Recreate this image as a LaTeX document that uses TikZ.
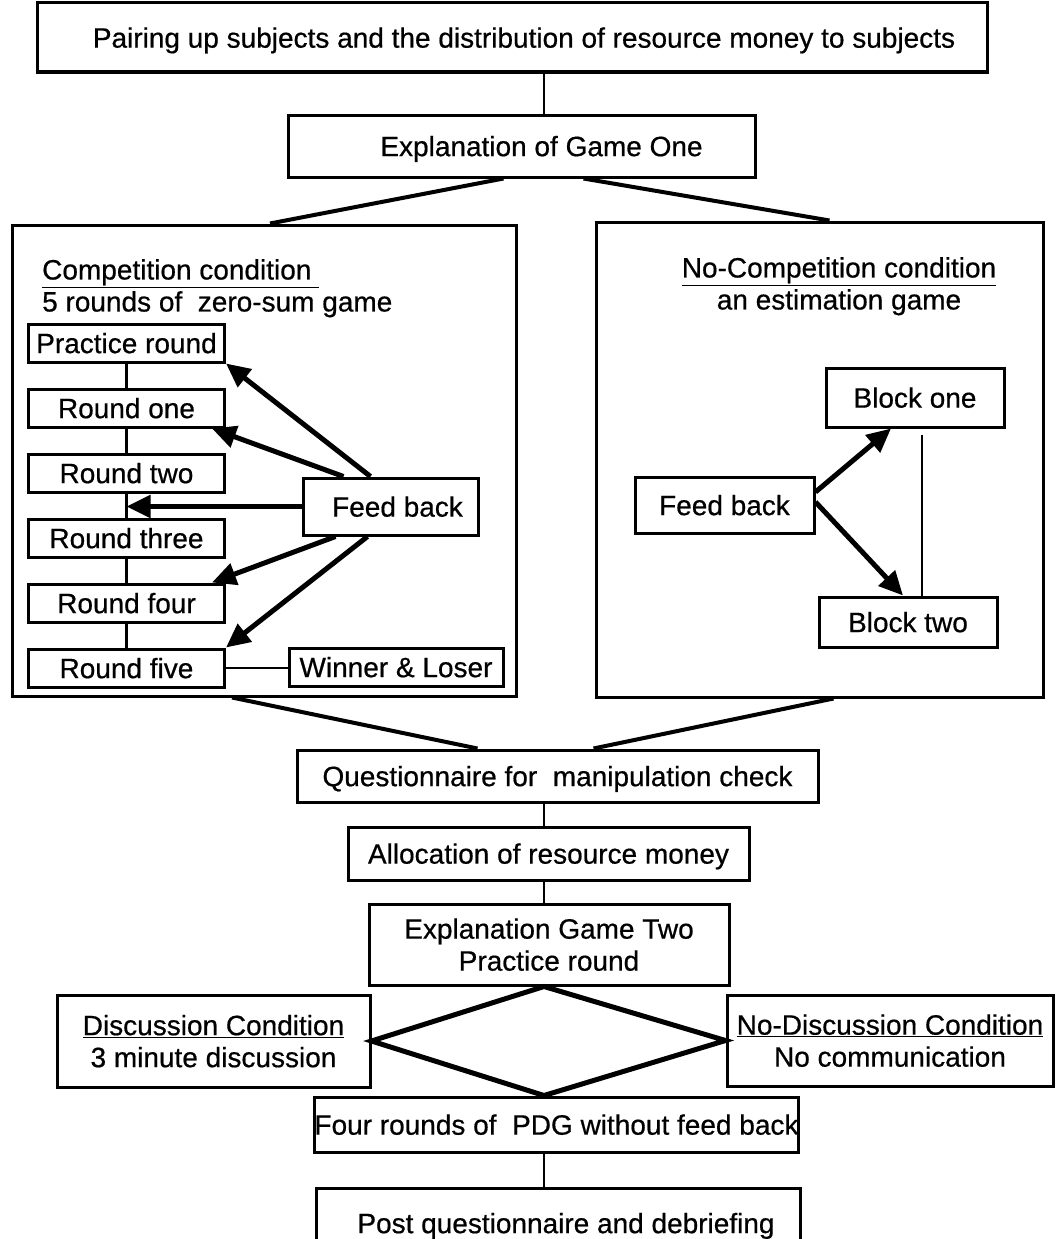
\documentclass[tikz,border=0pt]{standalone}
\usepackage{fontspec}
\setmainfont{Liberation Sans}[FakeBold=0.6]
\usetikzlibrary{arrows.meta, calc}

\begin{document}
\begin{tikzpicture}[x=1pt, y=-1pt,
    font=\fontsize{28}{32}\selectfont,
    X/.style 2 args = {rectangle, draw, line width=3pt, inner sep=0pt,
      minimum width=#1, minimum height=#2, align=center,
      text depth=0pt}, % boxes
    line/.style = {line width=#1}, line/.default = 2.5pt, % plain connectors
    arrow/.style = {line width=5pt,
      -{Triangle[length=24pt, width=22pt]}}, % feed back arrows
  ]
  \useasboundingbox (0,0) rectangle (1055,1239);
  \coordinate (spine) at (544,0);

  \node[X={950pt}{69pt}] (pair) at (512,37.5)
    {\hspace*{24pt}Pairing up subjects and the distribution of resource money to subjects};
  \node[X={467pt}{62pt}] (game1) at (521.5,146)
    {\hspace*{40pt}Explanation of Game One};
  \node[X={504pt}{471pt}] (comp) at (264,460.5) {};
  \node[X={447pt}{475pt}] (nocomp) at (819.5,459.5) {};

  \draw[line] (pair.south -| spine) -- (game1.north -| spine);
  \draw[line=4pt] ([xshift=-18pt]game1.south) -- ([xshift=6pt]comp.north);
  \draw[line=4pt] ([xshift=62pt]game1.south) -- ([xshift=10pt]nocomp.north);

  % competition condition
  \node[anchor=north west, align=left, inner sep=0pt] (compT) at (42,259)
    {\underline{Competition condition\ }\\5 rounds of~ zero-sum game};

  \foreach \t [count=\i from 0] in {Practice round, Round one, Round two,
      Round three, Round four, Round five}
    \node[X={196pt}{38pt}, anchor=west] (R-\i) at (27, 343+65*\i) {\t};
  \foreach \a/\b in {0/1, 1/2, 2/3, 3/4, 4/5}
    \draw[line] (R-\a) -- (R-\b);

  \node[X={175pt}{57pt}] (fbC) at (390.5,506.5) {\hspace*{14pt}Feed back};
  \node[X={214pt}{38pt}] (win) at (396,667) {Winner \& Loser};
  \draw[line] (R-5.east) -- (R-5.east -| win.west);

  \draw[arrow] ([xshift=-20pt]fbC.north) -- (R-0.south east);
  \draw[arrow] ([xshift=-47pt]fbC.north) -- ([xshift=-14pt]R-1.south east);
  \draw[arrow] (fbC.west) -- (R-2.south |- fbC.west);
  \draw[arrow] ([xshift=-55pt]fbC.south) -- ([xshift=-14pt]R-4.north east);
  \draw[arrow] ([xshift=-23pt]fbC.south) -- (R-5.north east);

  % no-competition condition
  \node[anchor=north, align=center, inner sep=0pt] (nocompT) at (839,257)
    {\underline{No-Competition condition}\\an estimation game};
  \node[X={179pt}{56pt}] (fbN) at (724.5,505) {Feed back};
  \node[X={178pt}{59pt}] (blk1) at (915,397.5) {Block one};
  \node[X={178pt}{50pt}] (blk2) at (908,622) {Block two};
  \draw[line] ([xshift=7pt,yshift=-6pt]blk1.south)
    -- ([xshift=7pt]blk1.south |- blk2.north);
  \draw[arrow] ([yshift=13pt]fbN.east) -- ([xshift=-24pt]blk1.south);
  \draw[arrow] ([yshift=3pt]fbN.east) -- ([xshift=-5pt]blk2.north);

  % second part
  \node[X={521pt}{52pt}] (quest) at (557.5,776)
    {Questionnaire for~ manipulation check};
  \draw[line=4pt] ([xshift=-32pt]comp.south) -- ([xshift=-80pt]quest.north);
  \draw[line=4pt] ([xshift=14pt]nocomp.south) -- ([xshift=36pt]quest.north);
  \node[X={401pt}{53pt}] (alloc) at (548.5,853.5) {Allocation of resource money};
  \node[X={360pt}{81pt}] (game2) at (549,944.5)
    {Explanation Game Two\\Practice round};
  \draw[line] (quest.south -| spine) -- (alloc.north -| spine);
  \draw[line] (alloc.south -| spine) -- (game2.north -| spine);

  \node[X={313pt}{92pt}] (disc) at (213.5,1041)
    {\underline{Discussion Condition}\\3 minute discussion};
  \node[X={326pt}{91pt}] (nodisc) at (890,1040.5)
    {\underline{No-Discussion Condition}\\No communication};
  \node[X={481pt}{55pt}] (pdg) at (556.5,1124.5)
    {Four rounds of~ PDG without feed back};
  \draw[line=5pt] (game2.south -| spine) -- (disc.east)
    -- (pdg.north -| spine) -- (nodisc.west) -- cycle;

  \node[X={484pt}{70pt}] (post) at (558,1223)
    {\hspace*{16pt}Post questionnaire and debriefing};
  \draw[line] (pdg.south -| spine) -- (post.north -| spine);
\end{tikzpicture}
\end{document}
